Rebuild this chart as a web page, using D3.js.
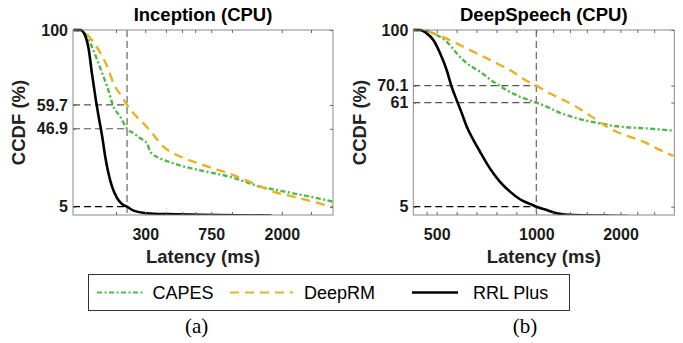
<!DOCTYPE html>
<html>
<head>
<meta charset="utf-8">
<script src="https://cdn.jsdelivr.net/npm/d3@7"></script>
<style>
  html, body { margin: 0; padding: 0; background: #fff; }
  svg { display: block; font-family: "Liberation Sans", Arial, Helvetica, sans-serif; }
</style>
</head>
<body>
<svg id="chart" width="683" height="343"></svg>
<script>
// ---- Inception (CPU): [latency ms, CCDF %] ----
const inceptionCapes = [[111,100],[125,99.6],[134,96.4],[143,91.0],[154,83.9],[165,76.7],[177,69.5],[193,58.8],[212,53.4],[233,46.9],[255,44.5],[280,41.8],[307,39.1],[322,34.6],[337,32.8],[369,31.0],[444,28.3],[534,26.2],[705,23.8],[930,21.5],[1118,19.4],[1475,15.8],[1858,14.0],[2338,12.2],[3084,10.1],[4069,7.7]];
const inceptionDeepRM = [[111,100],[122,100],[143,94.6],[161,87.5],[177,80.3],[193,71.3],[217,64.1],[233,59.7],[255,55.2],[293,49.8],[337,43.5],[386,37.3],[465,32.8],[586,29.2],[772,25.6],[1019,22.0],[1344,17.6],[1773,13.1],[2338,10.4],[3084,7.7],[4069,4.7]];
const inceptionRRL = [[111,100],[122,100],[131,96.4],[137,89.3],[143,76.8],[150,64.2],[157,53.5],[165,42.7],[172,32.0],[180,23.0],[189,15.9],[203,9.6],[217,6.5],[233,5.0],[255,2.9],[307,1.5],[405,1.0],[643,0.7],[1734,0.2]];

// ---- DeepSpeech (CPU): [latency ms, CCDF %] ----
const speechCapes = [[383,100],[450,99.6],[500,97.3],[550,93.7],[600,87.5],[651,82.1],[717,77.6],[784,72.2],[851,67.7],[918,64.1],[1000,61.0],[1124,58.8],[1281,55.5],[1439,53.1],[1599,51.2],[1757,49.8],[1914,48.5],[2074,47.7],[2232,47.3],[2390,46.8],[2628,45.9]];
const speechDeepRM = [[383,100],[433,100],[483,98.2],[567,94.6],[617,91.9],[667,89.2],[717,86.6],[768,83.9],[818,81.2],[868,78.5],[918,74.9],[968,71.7],[1000,70.1],[1124,66.8],[1281,63.3],[1439,59.7],[1599,55.2],[1718,51.6],[1836,48.0],[1955,45.3],[2113,42.6],[2272,40.0],[2430,36.4],[2628,32.3]];
const speechRRL = [[383,100],[416,100],[450,98.2],[483,94.6],[517,87.5],[550,78.5],[575,69.5],[600,62.4],[626,55.2],[651,48.0],[684,40.9],[717,34.6],[751,28.3],[784,23.0],[818,18.4],[868,13.1],[918,9.0],[968,6.5],[1000,5.0],[1124,3.2],[1242,1.5],[1440,0.5],[1836,0.2],[2092,0.0]];

// ---- axes, ticks, reference values ----
const inceptionXTicks = [300, 750, 2000];
const inceptionXMinor = [200, 400, 500, 600, 1000, 3000];
const inceptionYTicks = [5, 46.9, 59.7, 100];
const inceptionMarkX = 233;
const inceptionMarkY = [59.7, 46.9, 5];

const speechXTicks = [500, 1000, 2000];
const speechXMinor = [450, 600, 700, 800, 900, 1200, 1400, 1600, 1800, 2200, 2400];
const speechYTicks = [5, 61, 70.1, 100];
const speechMarkX = 1000;
const speechMarkY = [70.1, 61, 5];

const seriesNames = ["CAPES", "DeepRM", "RRL Plus"];
const seriesColors = ["#52b848", "#e8b323", "#000000"];
const seriesDash = ["5,2.5,2,2.5", "9,6", null];

const svg = d3.select("#chart");

function drawPanel(opt) {
  const { left, right, top, bottom, x, title, curves, xTicks, xMinor, yTicks, markX, markY } = opt;
  const y = d3.scaleLinear().domain([0, 100]).range([216, 30]);
  const g = svg.append("g");

  const clipId = "clip" + Math.round(left);
  g.append("clipPath").attr("id", clipId)
    .append("rect").attr("x", left).attr("y", top - 2).attr("width", right - left).attr("height", bottom - top + 2);

  // reference dashed lines
  const ref = g.append("g").attr("fill", "none");
  ref.append("line")
    .attr("x1", x(markX)).attr("x2", x(markX)).attr("y1", top).attr("y2", bottom)
    .attr("stroke", "#666").attr("stroke-width", 1.2).attr("stroke-dasharray", "7,4");
  markY.forEach(v => {
    ref.append("line")
      .attr("x1", left).attr("x2", x(markX)).attr("y1", y(v)).attr("y2", y(v))
      .attr("stroke", v === 5 ? "#000" : "#555").attr("stroke-width", 1.2).attr("stroke-dasharray", "7,4");
  });

  // curves
  const line = d3.line().x(d => x(d[0])).y(d => y(d[1])).curve(d3.curveMonotoneX);
  const cg = g.append("g").attr("clip-path", `url(#${clipId})`);
  curves.forEach((data, i) => {
    cg.append("path").datum(data)
      .attr("d", line)
      .attr("fill", "none")
      .attr("stroke", seriesColors[i])
      .attr("stroke-width", i === 2 ? 2.6 : 2.4)
      .attr("stroke-dasharray", seriesDash[i]);
  });

  // frame
  g.append("rect").attr("x", left).attr("y", top).attr("width", right - left).attr("height", bottom - top)
    .attr("fill", "none").attr("stroke", "#8a8a8a").attr("stroke-width", 1);

  const styleAxis = sel => {
    sel.select(".domain").remove();
    sel.selectAll("line").attr("stroke", "#666");
    sel.selectAll("text").attr("fill", "#1a1a1a").attr("font-size", 16).attr("font-weight", "bold")
      .attr("font-family", "'Liberation Sans', Arial, sans-serif");
  };

  g.append("g").attr("transform", `translate(0,${bottom})`)
    .call(d3.axisBottom(x).tickValues(xTicks).tickFormat(d3.format("d")).tickSize(-3).tickSizeOuter(0).tickPadding(14))
    .call(styleAxis);
  g.append("g").attr("transform", `translate(0,${bottom})`)
    .call(d3.axisBottom(x).tickValues(xMinor).tickFormat("").tickSize(-3).tickSizeOuter(0))
    .call(styleAxis);
  g.append("g").attr("transform", `translate(0,${top})`)
    .call(d3.axisTop(x).tickValues(xTicks.concat(xMinor)).tickFormat("").tickSize(-3).tickSizeOuter(0))
    .call(styleAxis);
  g.append("g").attr("transform", `translate(${left},0)`)
    .call(d3.axisLeft(y).tickValues(yTicks).tickFormat(d => String(d)).tickSize(-3).tickSizeOuter(0).tickPadding(5))
    .call(styleAxis);
  g.append("g").attr("transform", `translate(${right},0)`)
    .call(d3.axisRight(y).tickValues(yTicks).tickFormat("").tickSize(-3).tickSizeOuter(0))
    .call(styleAxis);

  // title and axis labels
  const cx = (left + right) / 2;
  g.append("text").attr("x", cx).attr("y", 21).attr("text-anchor", "middle")
    .attr("font-size", 18.5).attr("font-weight", "bold").attr("fill", "#000").text(title);
  g.append("text").attr("x", cx).attr("y", 263).attr("text-anchor", "middle")
    .attr("font-size", 18.5).attr("font-weight", "bold").attr("fill", "#222").text("Latency (ms)");
  g.append("text").attr("transform", `translate(${left - 54},${(top + bottom) / 2}) rotate(-90)`)
    .attr("text-anchor", "middle").attr("dy", "0.35em")
    .attr("font-size", 18.5).attr("font-weight", "bold").attr("fill", "#222").text("CCDF (%)");
}

// Inception panel: log latency axis
const xInception = d3.scaleLog().domain([110, 4070]).range([73, 333]);
drawPanel({
  left: 73, right: 333, top: 30, bottom: 215, x: xInception,
  title: "Inception (CPU)",
  curves: [inceptionCapes, inceptionDeepRM, inceptionRRL],
  xTicks: inceptionXTicks, xMinor: inceptionXMinor, yTicks: inceptionYTicks,
  markX: inceptionMarkX, markY: inceptionMarkY
});

// DeepSpeech panel: piecewise latency axis
const xSpeech = d3.scaleLinear().domain([383, 500, 1000, 2000, 2640]).range([413.3, 436.7, 536.3, 620.5, 674.3]);
drawPanel({
  left: 413.3, right: 674.3, top: 30, bottom: 215, x: xSpeech,
  title: "DeepSpeech (CPU)",
  curves: [speechCapes, speechDeepRM, speechRRL],
  xTicks: speechXTicks, xMinor: speechXMinor, yTicks: speechYTicks,
  markX: speechMarkX, markY: speechMarkY
});

// legend
const legend = svg.append("g");
legend.append("rect").attr("x", 88.5).attr("y", 274.5).attr("width", 481).attr("height", 36)
  .attr("fill", "#fff").attr("stroke", "#333").attr("stroke-width", 1);
const legendItems = [
  { x1: 97, x2: 143, tx: 152.5 },
  { x1: 230, x2: 293, tx: 304 },
  { x1: 412, x2: 458, tx: 473 }
];
legendItems.forEach((it, i) => {
  legend.append("line").attr("x1", it.x1).attr("x2", it.x2).attr("y1", 292.5).attr("y2", 292.5)
    .attr("stroke", seriesColors[i]).attr("stroke-width", i === 2 ? 2.6 : 2.2)
    .attr("stroke-dasharray", seriesDash[i]);
  legend.append("text").attr("x", it.tx).attr("y", 292.5).attr("dy", "0.35em")
    .attr("font-size", 18).attr("fill", "#000").text(seriesNames[i]);
});

// sub-figure captions
[["(a)", 196.7], ["(b)", 525]].forEach(([t, cx]) => {
  svg.append("text").attr("x", cx).attr("y", 333).attr("text-anchor", "middle")
    .attr("font-family", "'Liberation Serif', 'Times New Roman', serif")
    .attr("font-size", 21).attr("fill", "#000").text(t);
});
</script>
</body>
</html>
